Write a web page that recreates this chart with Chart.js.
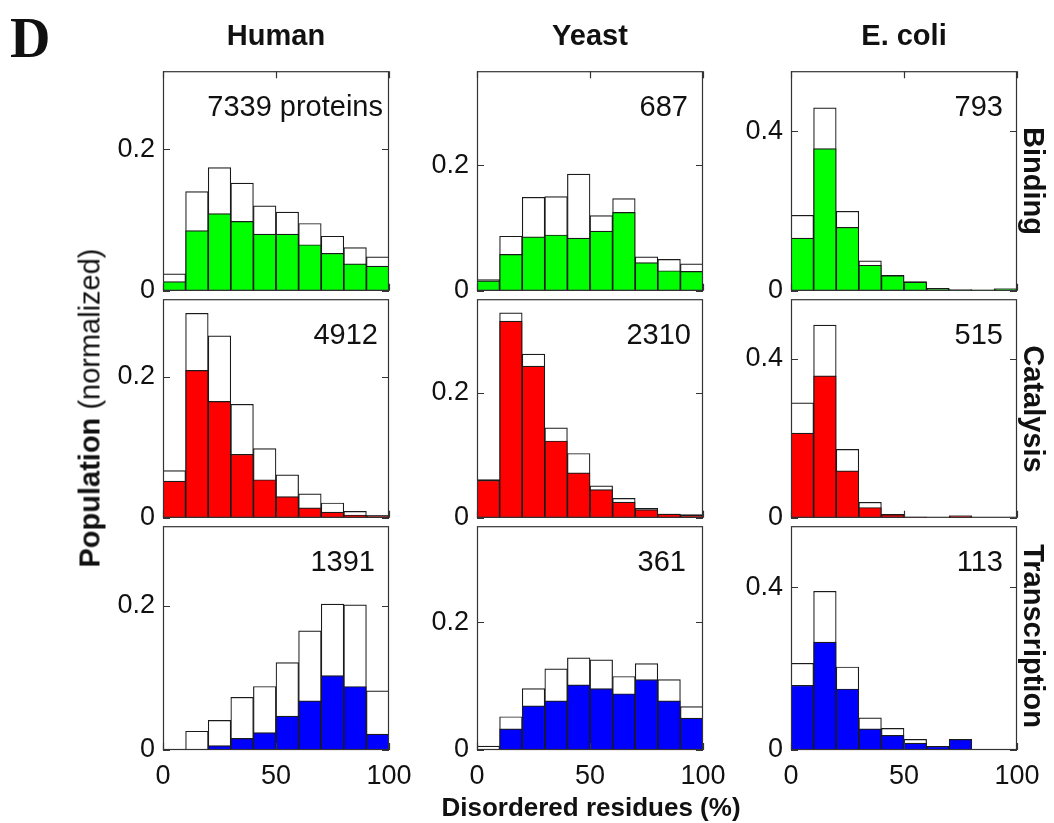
<!DOCTYPE html>
<html>
<head>
<meta charset="utf-8">
<title>Disordered residues by function</title>
<script src="https://cdn.jsdelivr.net/npm/chart.js@4.4.1/dist/chart.umd.min.js"></script>
<style>
  body { margin: 0; background: #fff; }
  #fig { position: relative; width: 1054px; height: 823px; overflow: hidden;
         font-family: "Liberation Sans", Arial, sans-serif; color: #111; }
  #fig canvas { position: absolute; }
  .lbl { position: absolute; white-space: nowrap; line-height: 1; font-weight: bold; font-size: 29px; }
  .letter { position: absolute; left: 10px; top: 6px; line-height: 1;
            font: bold 56px "Liberation Serif", "Times New Roman", serif; }
</style>
</head>
<body>
<div id="fig">
  <div class="letter">D</div>
</div>
<script>
// histogram bins: 10 bins of 10% disordered residues
const binCenters = [5, 15, 25, 35, 45, 55, 65, 75, 85, 95];

const organisms = ["Human", "Yeast", "E. coli"];
const functions = ["Binding", "Catalysis", "Transcription"];
const proteinCounts = [
  ["7339 proteins", "687", "793"],
  ["4912", "2310", "515"],
  ["1391", "361", "113"],
];

// y-axis limits and tick step per organism column
const yMax = [0.31, 0.35, 0.55];
const yStep = [0.2, 0.2, 0.4];

// outlined bars = all proteins, filled bars = subset
const humanBindingAll = [0.024, 0.140, 0.174, 0.152, 0.120, 0.111, 0.095, 0.077, 0.061, 0.048];
const humanBindingSub = [0.013, 0.085, 0.109, 0.098, 0.080, 0.080, 0.065, 0.053, 0.038, 0.035];
const yeastBindingAll = [0.018, 0.087, 0.149, 0.150, 0.186, 0.120, 0.147, 0.054, 0.050, 0.043];
const yeastBindingSub = [0.016, 0.058, 0.086, 0.089, 0.084, 0.095, 0.125, 0.045, 0.032, 0.031];
const ecoliBindingAll = [0.189, 0.458, 0.199, 0.075, 0.039, 0.023, 0.006, 0.003, 0.002, 0.005];
const ecoliBindingSub = [0.132, 0.356, 0.159, 0.064, 0.038, 0.022, 0.005, 0.002, 0.001, 0.005];

const humanCatalysisAll = [0.067, 0.290, 0.258, 0.161, 0.098, 0.061, 0.034, 0.021, 0.009, 0.003];
const humanCatalysisSub = [0.052, 0.209, 0.165, 0.090, 0.054, 0.030, 0.014, 0.008, 0.004, 0.003];
const yeastCatalysisAll = [0.061, 0.328, 0.262, 0.144, 0.103, 0.051, 0.031, 0.015, 0.006, 0.005];
const yeastCatalysisSub = [0.060, 0.315, 0.243, 0.123, 0.072, 0.045, 0.025, 0.013, 0.006, 0.004];
const ecoliCatalysisAll = [0.289, 0.485, 0.172, 0.039, 0.009, 0.002, 0, 0.005, 0, 0];
const ecoliCatalysisSub = [0.213, 0.357, 0.118, 0.026, 0.008, 0.002, 0, 0.005, 0, 0];

const humanTranscriptionAll = [0.001, 0.026, 0.041, 0.073, 0.088, 0.121, 0.165, 0.202, 0.201, 0.082];
const humanTranscriptionSub = [0, 0.001, 0.006, 0.016, 0.024, 0.047, 0.068, 0.103, 0.088, 0.022];
const yeastTranscriptionAll = [0.006, 0.052, 0.096, 0.127, 0.144, 0.141, 0.115, 0.135, 0.110, 0.068];
const yeastTranscriptionSub = [0, 0.033, 0.069, 0.077, 0.102, 0.096, 0.088, 0.110, 0.077, 0.050];
const ecoliTranscriptionAll = [0.213, 0.390, 0.204, 0.079, 0.053, 0.026, 0.009, 0.026, 0, 0];
const ecoliTranscriptionSub = [0.159, 0.265, 0.150, 0.052, 0.036, 0.017, 0.009, 0.026, 0, 0];

const panelData = [
  [[humanBindingAll, humanBindingSub], [yeastBindingAll, yeastBindingSub], [ecoliBindingAll, ecoliBindingSub]],
  [[humanCatalysisAll, humanCatalysisSub], [yeastCatalysisAll, yeastCatalysisSub], [ecoliCatalysisAll, ecoliCatalysisSub]],
  [[humanTranscriptionAll, humanTranscriptionSub], [yeastTranscriptionAll, yeastTranscriptionSub], [ecoliTranscriptionAll, ecoliTranscriptionSub]],
];

// layout
const colLeft = [163, 477, 791];
const rowTop = [67, 295, 522];
const rowHeight = [228, 227, 228];
const plotWidth = 226;
const noteInset = [[6, 15, 14], [11, 12, 14], [14, 17, 14]];
const fillColors = ["#00ff00", "#ff0000", "#0000ff"];
const lineColor = "#1a1a1a";
const frameColor = "#333";
const textColor = "#111";
const fontFamily = "'Liberation Sans', Arial, sans-serif";

const fig = document.getElementById("fig");

// box around the plot area, inward ticks and the protein count
const framePlugin = {
  id: "frame",
  afterDatasetsDraw(chart, args, opts) {
    const { ctx, chartArea: a, scales } = chart;
    const len = 7;
    ctx.save();
    ctx.strokeStyle = frameColor;
    ctx.lineWidth = 1.2;
    ctx.strokeRect(a.left + 0.5, a.top + 0.5, a.right - a.left - 1, a.bottom - a.top - 1);
    ctx.beginPath();
    scales.y.ticks.forEach((t) => {
      const y = Math.round(scales.y.getPixelForValue(t.value)) + 0.5;
      ctx.moveTo(a.left, y);
      ctx.lineTo(a.left + len, y);
      ctx.moveTo(a.right, y);
      ctx.lineTo(a.right - len, y);
    });
    scales.x.ticks.forEach((t) => {
      const x = Math.round(scales.x.getPixelForValue(t.value)) + 0.5;
      if (opts.topTicks) {
        ctx.moveTo(x, a.top);
        ctx.lineTo(x, a.top + len);
      }
      ctx.moveTo(x, a.bottom);
      ctx.lineTo(x, a.bottom - len);
    });
    ctx.stroke();
    ctx.font = "29px " + fontFamily;
    ctx.fillStyle = textColor;
    ctx.textAlign = "right";
    ctx.textBaseline = "alphabetic";
    ctx.fillText(opts.note, a.right - opts.inset, a.top + 45);
    ctx.restore();
  },
};

const tickFont = { family: fontFamily, size: 27 };

function barSet(values, color) {
  return {
    data: binCenters.map((x, i) => ({ x, y: values[i] })),
    backgroundColor: color,
    borderColor: lineColor,
    borderWidth: 1.2,
    borderSkipped: false,
    grouped: false,
    barPercentage: 1,
    categoryPercentage: 1,
  };
}

for (let r = 0; r < 3; r++) {
  for (let c = 0; c < 3; c++) {
    const lastRow = r === 2;
    const canvas = document.createElement("canvas");
    const w = 70 + plotWidth + 35;
    const h = 20 + rowHeight[r] + (lastRow ? 45 : 20);
    canvas.width = w;
    canvas.height = h;
    canvas.style.width = w + "px";
    canvas.style.height = h + "px";
    canvas.style.left = colLeft[c] - 70 + "px";
    canvas.style.top = rowTop[r] - 20 + "px";
    fig.appendChild(canvas);

    const [all, sub] = panelData[r][c];
    new Chart(canvas, {
      type: "bar",
      data: {
        datasets: [barSet(sub, fillColors[r]), barSet(all, "#ffffff")],
      },
      options: {
        responsive: false,
        animation: false,
        devicePixelRatio: 1,
        layout: { padding: { left: 8, top: 20, right: 35, bottom: lastRow ? 5 : 20 } },
        scales: {
          x: {
            type: "linear",
            min: 0,
            max: 100,
            offset: false,
            grid: { display: false, drawTicks: false, offset: false },
            border: { display: false },
            ticks: { stepSize: 50, display: lastRow, padding: 10, font: tickFont, color: textColor },
            afterFit: (s) => { s.height = lastRow ? 40 : 0; },
          },
          y: {
            min: 0,
            max: yMax[c],
            grid: { display: false, drawTicks: false },
            border: { display: false },
            ticks: {
              stepSize: yStep[c],
              includeBounds: false,
              padding: 8,
              font: tickFont,
              color: textColor,
              callback: (v) => (v === 0 ? "0" : v.toFixed(1)),
            },
            afterFit: (s) => { s.width = 62; },
          },
        },
        plugins: {
          legend: { display: false },
          tooltip: { enabled: false },
          frame: { note: proteinCounts[r][c], inset: noteInset[r][c], topTicks: r === 0 },
        },
      },
      plugins: [framePlugin],
    });
  }
}

// column titles, row titles and axis labels
function addLabel(html, x, y, rotate, size) {
  const el = document.createElement("div");
  el.className = "lbl";
  el.innerHTML = html;
  el.style.left = x + "px";
  el.style.top = y + "px";
  if (size) el.style.fontSize = size + "px";
  el.style.transform = "translate(-50%, -50%)" + (rotate ? ` rotate(${rotate}deg)` : "");
  fig.appendChild(el);
}

organisms.forEach((name, c) => addLabel(name, colLeft[c] + plotWidth / 2, 35, 0));
functions.forEach((name, r) => addLabel(name, 1033, rowTop[r] + rowHeight[r] / 2, 90));
addLabel('Population <span style="font-weight:normal">(normalized)</span>', 90, 408, -90);
addLabel("Disordered residues (%)", 591, 807, 0, 26);
</script>
</body>
</html>
